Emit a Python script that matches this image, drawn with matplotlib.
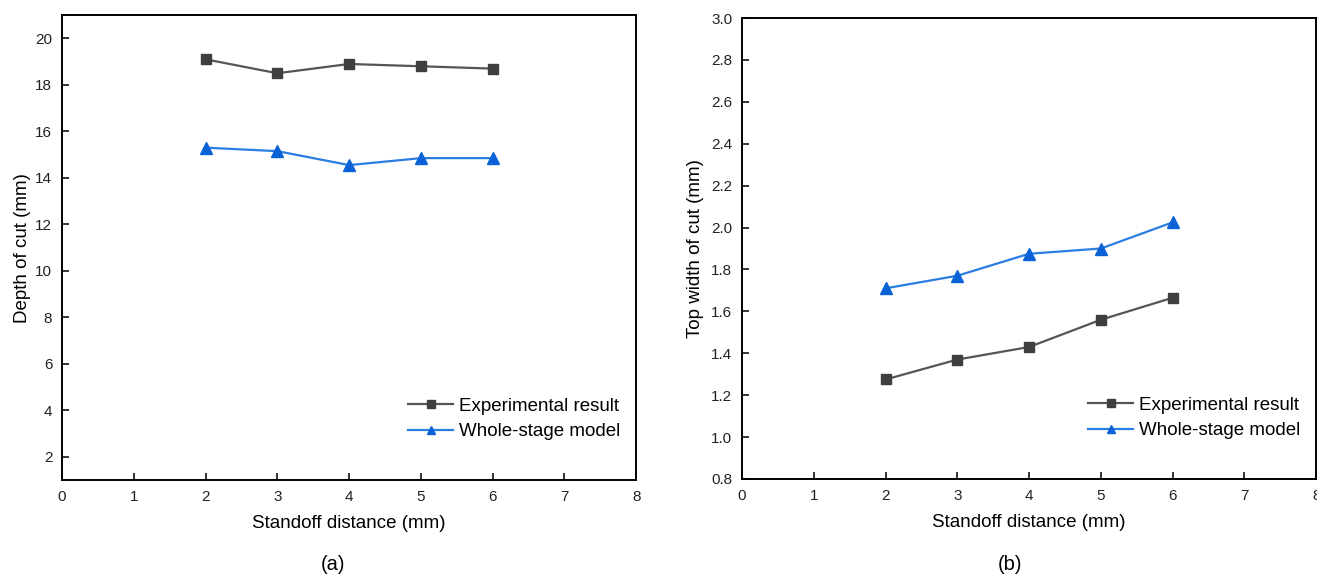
import matplotlib
matplotlib.use("Agg")
import matplotlib.pyplot as plt

# ── Data ─────────────────────────────────────────────────────────────────────
standoff = [2, 3, 4, 5, 6]

depth_exp   = [19.1, 18.5, 18.9, 18.8, 18.7]
depth_model = [15.3, 15.15, 14.55, 14.85, 14.85]

width_exp   = [1.275, 1.37, 1.43, 1.56, 1.665]
width_model = [1.71, 1.77, 1.875, 1.90, 2.025]

GRAY = "#555555"
GRAY_MK = "#3f3f3f"
BLUE = "#2a7de1"
BLUE_MK = "#0b62d6"

plt.rcParams.update({
    "font.family": "Liberation Sans",
    "font.size": 10,
    "axes.linewidth": 1.4,
    "legend.markerscale": 0.8,
})

fig = plt.figure(figsize=(13.17, 5.82), dpi=100)
ax1 = fig.add_axes([0.0471, 0.175, 0.436, 0.799])
ax2 = fig.add_axes([0.5634, 0.177, 0.436, 0.792])


def style(ax):
    ax.tick_params(direction="in", length=5, width=1.3, labelsize=11, pad=7,
                   colors="#222222")
    ax.set_xlim(0, 8)
    ax.set_xticks(range(0, 9))
    ax.set_xlabel("Standoff distance (mm)", fontsize=13.5, labelpad=8)
    ax.legend(loc="lower right", frameon=False, fontsize=13.5, handlelength=2.4,
              handletextpad=0.3, labelspacing=0.45, borderaxespad=0,
              bbox_to_anchor=(0.985, 0.07))


# ── Panel (a) ────────────────────────────────────────────────────────────────
ax1.plot(standoff, depth_exp, "s-", color=GRAY, mfc=GRAY_MK, mec=GRAY_MK,
         lw=1.6, ms=7, label="Experimental result")
ax1.plot(standoff, depth_model, "^-", color=BLUE, mfc=BLUE_MK, mec=BLUE_MK,
         lw=1.6, ms=8, label="Whole-stage model")
ax1.set_ylim(1, 21)
ax1.set_yticks(range(2, 21, 2))
ax1.set_ylabel("Depth of cut (mm)", fontsize=13.5, labelpad=3)
style(ax1)

# ── Panel (b) ────────────────────────────────────────────────────────────────
ax2.plot(standoff, width_exp, "s-", color=GRAY, mfc=GRAY_MK, mec=GRAY_MK,
         lw=1.6, ms=7, label="Experimental result")
ax2.plot(standoff, width_model, "^-", color=BLUE, mfc=BLUE_MK, mec=BLUE_MK,
         lw=1.6, ms=8, label="Whole-stage model")
ax2.set_ylim(0.8, 3.0)
ax2.set_yticks([0.8 + 0.2 * i for i in range(12)])
ax2.set_yticklabels([f"{0.8 + 0.2 * i:.1f}" for i in range(12)])
ax2.set_ylabel("Top width of cut (mm)", fontsize=13.5, labelpad=5)
style(ax2)

fig.text(0.253, 0.02, "(a)", ha="center", fontsize=14.5)
fig.text(0.767, 0.02, "(b)", ha="center", fontsize=14.5)

fig.savefig("out.png", dpi=100)
